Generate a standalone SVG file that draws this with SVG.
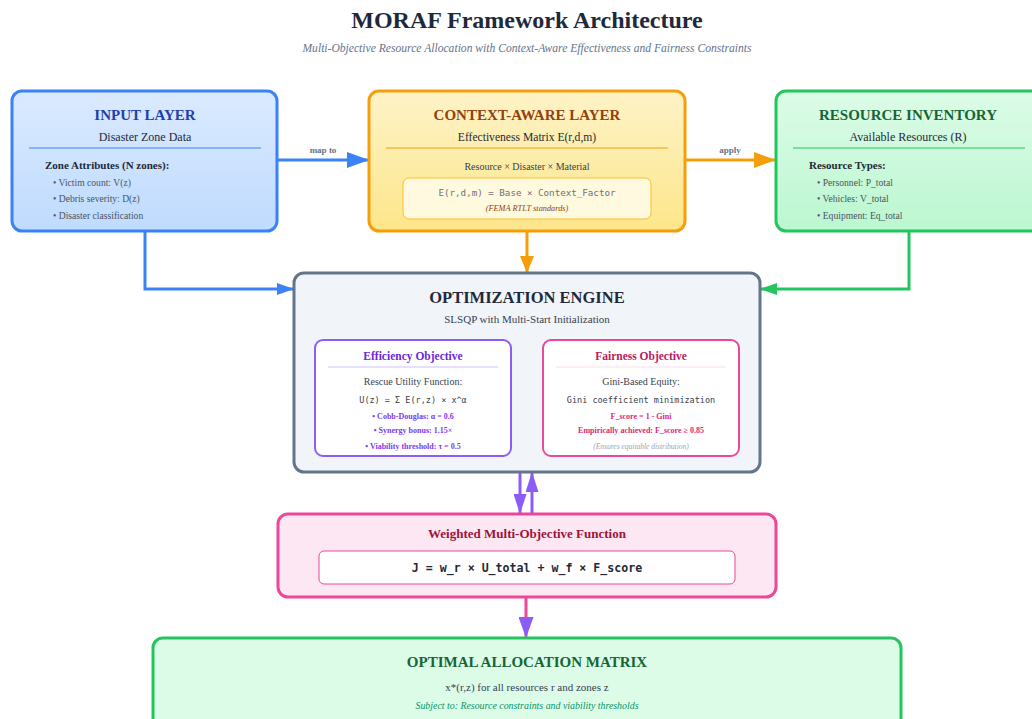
<svg xmlns="http://www.w3.org/2000/svg" width="1032" height="719" viewBox="0 0 1032 719">
  <defs>
    <linearGradient id="gBlue" x1="0" y1="0" x2="0" y2="1">
      <stop offset="0" stop-color="#dbeafe"/>
      <stop offset="1" stop-color="#bfdbfe"/>
    </linearGradient>
    <linearGradient id="gAmber" x1="0" y1="0" x2="0" y2="1">
      <stop offset="0" stop-color="#fef3c7"/>
      <stop offset="1" stop-color="#fde68a"/>
    </linearGradient>
    <linearGradient id="gGreen" x1="0" y1="0" x2="0" y2="1">
      <stop offset="0" stop-color="#dcfce7"/>
      <stop offset="1" stop-color="#bbf7d0"/>
    </linearGradient>
    <marker id="mBlueL" viewBox="0 0 10 10" refX="10" refY="5" markerWidth="22" markerHeight="16" markerUnits="userSpaceOnUse" orient="auto" preserveAspectRatio="none">
      <path d="M0,0 L10,5 L0,10 z" fill="#3b82f6"/>
    </marker>
    <marker id="mAmberL" viewBox="0 0 10 10" refX="10" refY="5" markerWidth="22" markerHeight="16" markerUnits="userSpaceOnUse" orient="auto" preserveAspectRatio="none">
      <path d="M0,0 L10,5 L0,10 z" fill="#f59e0b"/>
    </marker>
    <marker id="mAmber" viewBox="0 0 10 10" refX="10" refY="5" markerWidth="17" markerHeight="14" markerUnits="userSpaceOnUse" orient="auto" preserveAspectRatio="none">
      <path d="M0,0 L10,5 L0,10 z" fill="#f59e0b"/>
    </marker>
    <marker id="mBlueS" viewBox="0 0 10 10" refX="10" refY="5" markerWidth="17" markerHeight="12" markerUnits="userSpaceOnUse" orient="auto" preserveAspectRatio="none">
      <path d="M0,0 L10,5 L0,10 z" fill="#3b82f6"/>
    </marker>
    <marker id="mGreenS" viewBox="0 0 10 10" refX="10" refY="5" markerWidth="17" markerHeight="12" markerUnits="userSpaceOnUse" orient="auto" preserveAspectRatio="none">
      <path d="M0,0 L10,5 L0,10 z" fill="#22c55e"/>
    </marker>
    <marker id="mPurple" viewBox="0 0 10 10" refX="10" refY="5" markerWidth="20" markerHeight="13" markerUnits="userSpaceOnUse" orient="auto" preserveAspectRatio="none">
      <path d="M0,0 L10,5 L0,10 z" fill="#8b5cf6"/>
    </marker>
    <marker id="mPurpleL" viewBox="0 0 10 10" refX="10" refY="5" markerWidth="21" markerHeight="15" markerUnits="userSpaceOnUse" orient="auto" preserveAspectRatio="none">
      <path d="M0,0 L10,5 L0,10 z" fill="#8b5cf6"/>
    </marker>
  </defs>
  <style>
    .serif { font-family: "Liberation Serif", "Times New Roman", serif; }
    .mono { font-family: "DejaVu Sans Mono", "Liberation Mono", monospace; }
    .c { text-anchor: middle; }
    .title { font-size: 24px; font-weight: bold; fill: #1e293b; }
    .subtitle { font-size: 11.6px; font-style: italic; fill: #64748b; }
    .h { font-size: 15px; font-weight: bold; }
    .sub { font-size: 12px; fill: #1f2937; }
    .small { font-size: 10px; fill: #374151; }
    .bul { font-size: 9.6px; fill: #4b5563; }
    .bold11 { font-size: 11px; font-weight: bold; fill: #1f2937; }
    .elabel { font-size: 9px; font-weight: bold; fill: #64748b; }
    .conn { fill: none; stroke-width: 3; }
  </style>

  <rect width="1032" height="719" fill="#ffffff"/>

  <!-- heading -->
  <text class="serif c title" x="527" y="28">MORAF Framework Architecture</text>
  <text class="serif c subtitle" x="527" y="52">Multi-Objective Resource Allocation with Context-Aware Effectiveness and Fairness Constraints</text>

  <!-- connectors -->
  <g id="connectors">
    <line class="conn" x1="277" y1="160" x2="369" y2="160" stroke="#3b82f6" marker-end="url(#mBlueL)"/>
    <text class="serif c elabel" x="323" y="153">map to</text>
    <line class="conn" x1="685" y1="160" x2="776" y2="160" stroke="#f59e0b" marker-end="url(#mAmberL)"/>
    <text class="serif c elabel" x="730" y="153">apply</text>
    <line class="conn" x1="527" y1="231" x2="527" y2="273" stroke="#f59e0b" marker-end="url(#mAmber)"/>
    <polyline class="conn" points="145,231 145,289 294,289" stroke="#3b82f6" stroke-width="2" marker-end="url(#mBlueS)"/>
    <polyline class="conn" points="909,231 909,289 760,289" stroke="#22c55e" stroke-width="2" marker-end="url(#mGreenS)"/>
    <line class="conn" x1="520" y1="472" x2="520" y2="514" stroke="#8b5cf6" marker-end="url(#mPurple)"/>
    <line class="conn" x1="532" y1="514" x2="532" y2="472" stroke="#8b5cf6" marker-end="url(#mPurple)"/>
    <line class="conn" x1="526" y1="597" x2="526" y2="638" stroke="#ec4899" marker-end="url(#mPurpleL)"/>
  </g>

  <!-- input layer -->
  <g id="input-layer">
    <rect x="12" y="91" width="265" height="140" rx="10" fill="url(#gBlue)" stroke="#3b82f6" stroke-width="3"/>
    <text class="serif c h" x="145" y="120" fill="#1e40af">INPUT LAYER</text>
    <text class="serif c sub" x="145" y="141">Disaster Zone Data</text>
    <line x1="29" y1="148" x2="261" y2="148" stroke="#3b82f6" stroke-width="1"/>
    <text class="serif bold11" x="45" y="169">Zone Attributes (N zones):</text>
    <text class="serif bul" x="53" y="186">• Victim count: V(z)</text>
    <text class="serif bul" x="53" y="202">• Debris severity: D(z)</text>
    <text class="serif bul" x="53" y="219">• Disaster classification</text>
  </g>

  <!-- context-aware layer -->
  <g id="context-layer">
    <rect x="369" y="91" width="316" height="140" rx="10" fill="url(#gAmber)" stroke="#f59e0b" stroke-width="3"/>
    <text class="serif c h" x="527" y="120" fill="#92400e">CONTEXT-AWARE LAYER</text>
    <text class="serif c" x="527" y="141" font-size="11.6" fill="#1f2937">Effectiveness Matrix E(r,d,m)</text>
    <line x1="386" y1="148" x2="668" y2="148" stroke="#f59e0b" stroke-width="1"/>
    <text class="serif c small" x="527" y="170">Resource × Disaster × Material</text>
    <rect x="403" y="178" width="248" height="41" rx="6" fill="#fffbeb" fill-opacity="0.85" stroke="#fbbf24" stroke-width="1"/>
    <text class="mono c" x="527" y="196" font-size="9.2" fill="#6b7280">E(r,d,m) = Base × Context_Factor</text>
    <text class="serif c" x="527" y="211" font-size="8.3" font-style="italic" fill="#92400e">(FEMA RTLT standards)</text>
  </g>

  <!-- resource inventory -->
  <g id="resource-inventory">
    <rect x="776" y="91" width="266" height="140" rx="10" fill="url(#gGreen)" stroke="#22c55e" stroke-width="3"/>
    <text class="serif c h" x="908" y="120" fill="#166534">RESOURCE INVENTORY</text>
    <text class="serif c sub" x="908" y="141">Available Resources (R)</text>
    <line x1="793" y1="148" x2="1025" y2="148" stroke="#22c55e" stroke-width="1"/>
    <text class="serif bold11" x="809" y="169">Resource Types:</text>
    <text class="serif bul" x="817" y="186">• Personnel: P_total</text>
    <text class="serif bul" x="817" y="202">• Vehicles: V_total</text>
    <text class="serif bul" x="817" y="219">• Equipment: Eq_total</text>
  </g>

  <!-- optimization engine -->
  <g id="optimization-engine">
    <rect x="294" y="273" width="466" height="199" rx="10" fill="#f1f5f9" stroke="#64748b" stroke-width="3"/>
    <text class="serif c" x="527" y="303" font-size="16.5" font-weight="bold" fill="#1e293b">OPTIMIZATION ENGINE</text>
    <text class="serif c" x="527" y="323" font-size="11" fill="#374151">SLSQP with Multi-Start Initialization</text>
  </g>

  <!-- efficiency objective -->
  <g id="efficiency-objective">
    <rect x="315" y="340" width="196" height="116" rx="8" fill="#ffffff" stroke="#8b5cf6" stroke-width="2"/>
    <text class="serif c" x="413" y="360" font-size="11.5" font-weight="bold" fill="#6d28d9">Efficiency Objective</text>
    <line x1="328" y1="367" x2="498" y2="367" stroke="#ddd6fe" stroke-width="1.5"/>
    <text class="serif c small" x="413" y="385">Rescue Utility Function:</text>
    <text class="mono c" x="413" y="403" font-size="8.5" fill="#374151">U(z) = Σ E(r,z) × x^α</text>
    <text class="serif c" x="413" y="419" font-size="8" font-weight="bold" fill="#7c3aed">• Cobb-Douglas: α = 0.6</text>
    <text class="serif c" x="413" y="433" font-size="8" font-weight="bold" fill="#7c3aed">• Synergy bonus: 1.15×</text>
    <text class="serif c" x="413" y="449" font-size="8" font-weight="bold" fill="#7c3aed">• Viability threshold: τ = 0.5</text>
  </g>

  <!-- fairness objective -->
  <g id="fairness-objective">
    <rect x="543" y="340" width="196" height="116" rx="8" fill="#ffffff" stroke="#ec4899" stroke-width="2"/>
    <text class="serif c" x="641" y="360" font-size="11.5" font-weight="bold" fill="#be185d">Fairness Objective</text>
    <line x1="556" y1="367" x2="726" y2="367" stroke="#fce7f3" stroke-width="1.5"/>
    <text class="serif c small" x="641" y="385">Gini-Based Equity:</text>
    <text class="mono c" x="641" y="403" font-size="8.5" fill="#374151">Gini coefficient minimization</text>
    <text class="serif c" x="641" y="419" font-size="8" font-weight="bold" fill="#db2777">F_score = 1 - Gini</text>
    <text class="serif c" x="641" y="433" font-size="8" font-weight="bold" fill="#db2777">Empirically achieved: F_score ≥ 0.85</text>
    <text class="serif c" x="641" y="449" font-size="7.5" font-style="italic" fill="#9ca3af">(Ensures equitable distribution)</text>
  </g>

  <!-- weighted objective -->
  <g id="weighted-objective">
    <rect x="278" y="514" width="498" height="83" rx="10" fill="#fce7f3" stroke="#ec4899" stroke-width="3"/>
    <text class="serif c" x="527" y="538" font-size="13" font-weight="bold" fill="#9f1239">Weighted Multi-Objective Function</text>
    <rect x="319" y="551" width="416" height="33" rx="5" fill="#ffffff" stroke="#ec4899" stroke-width="1"/>
    <text class="mono c" x="527" y="572" font-size="11.6" font-weight="bold" fill="#1f2937">J = w_r × U_total + w_f × F_score</text>
  </g>

  <!-- optimal allocation -->
  <g id="optimal-allocation">
    <rect x="153" y="638" width="748" height="100" rx="10" fill="#dcfce7" stroke="#22c55e" stroke-width="3"/>
    <text class="serif c" x="527" y="667" font-size="15" font-weight="bold" fill="#166534">OPTIMAL ALLOCATION MATRIX</text>
    <text class="serif c" x="527" y="691" font-size="11" fill="#374151">x*(r,z) for all resources r and zones z</text>
    <text class="serif c" x="527" y="709" font-size="9.9" font-style="italic" fill="#059669">Subject to: Resource constraints and viability thresholds</text>
  </g>
</svg>
